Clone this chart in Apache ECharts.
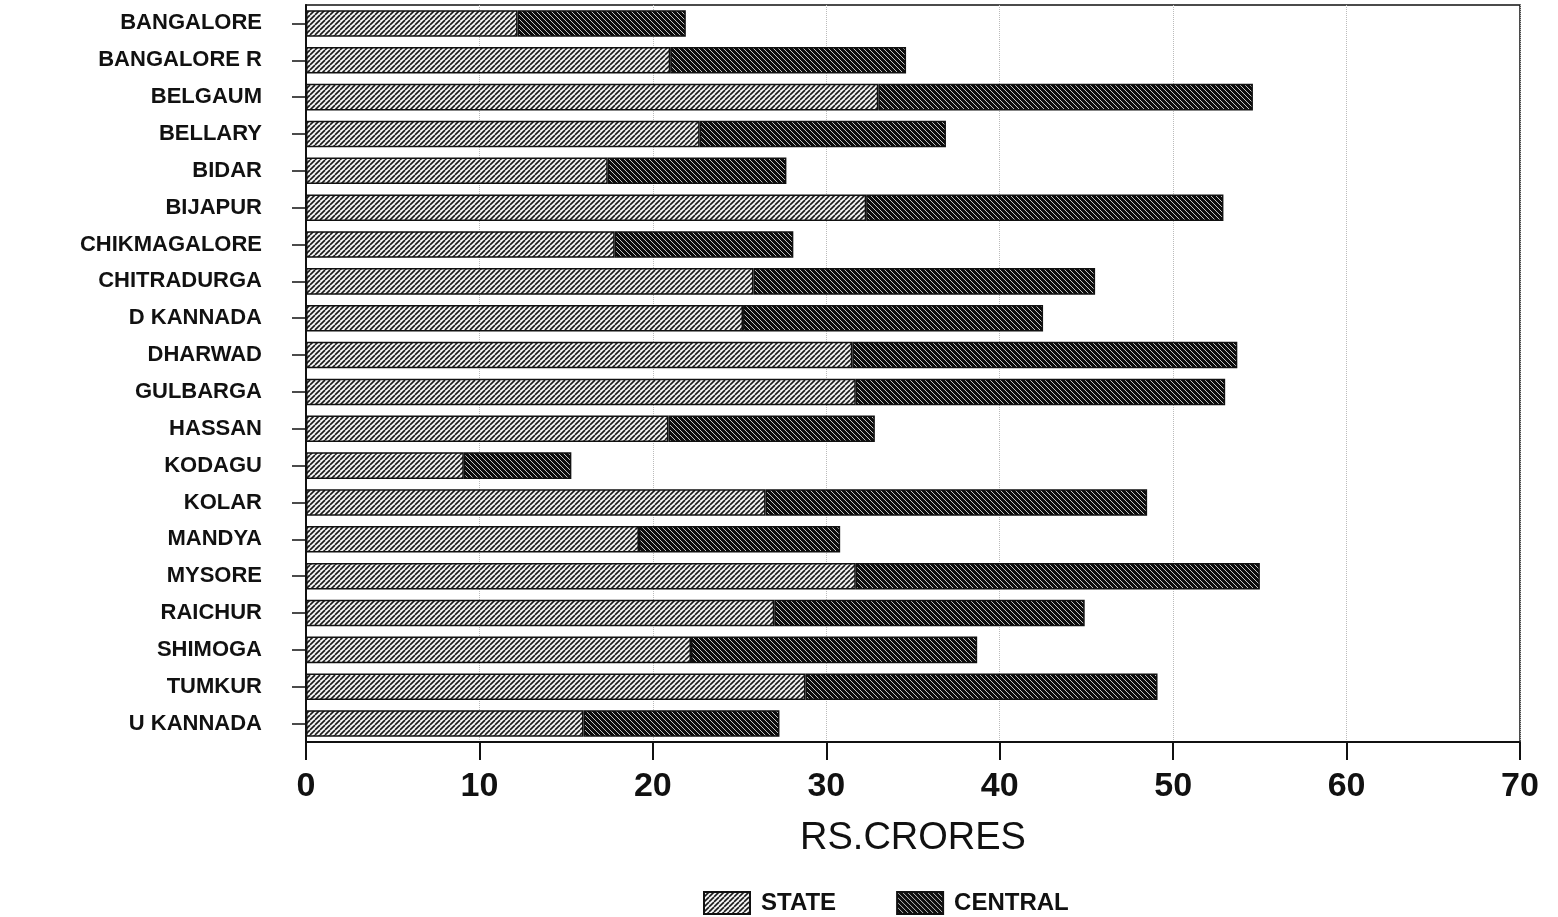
<!DOCTYPE html>
<html>
<head>
<meta charset="utf-8">
<script src="https://cdn.jsdelivr.net/npm/echarts@6/dist/echarts.min.js"></script>
<style>
html,body{margin:0;padding:0;background:#fff;}
#c{width:1558px;height:917px;}
</style>
</head>
<body>
<div id="c"></div>
<script>
const categories = ['BANGALORE','BANGALORE R','BELGAUM','BELLARY','BIDAR','BIJAPUR','CHIKMAGALORE','CHITRADURGA','D KANNADA','DHARWAD','GULBARGA','HASSAN','KODAGU','KOLAR','MANDYA','MYSORE','RAICHUR','SHIMOGA','TUMKUR','U KANNADA'];
const stateValues = [12.2,21.0,33.0,22.7,17.4,32.3,17.8,25.8,25.2,31.5,31.7,20.9,9.1,26.5,19.2,31.7,27.0,22.2,28.8,16.0];
const centralValues = [9.7,13.6,21.6,14.2,10.3,20.6,10.3,19.7,17.3,22.2,21.3,11.9,6.2,22.0,11.6,23.3,17.9,16.5,20.3,11.3];
const xTicks = [0,10,20,30,40,50,60,70];

function makePattern(bg, fg, dir, s, lw) {
  const c = document.createElement('canvas');
  c.width = s; c.height = s;
  const g = c.getContext('2d');
  g.fillStyle = bg; g.fillRect(0,0,s,s);
  g.strokeStyle = fg; g.lineWidth = lw;
  for (let k = -s; k <= s; k += s) {
    g.beginPath();
    if (dir === '/') { g.moveTo(k, s); g.lineTo(k + s, 0); }
    else { g.moveTo(k, 0); g.lineTo(k + s, s); }
    g.stroke();
  }
  return { image: c, repeat: 'repeat' };
}
const statePat = makePattern('#f4f4f4', '#1a1a1a', '/', 5, 1.6);
const centralPat = makePattern('#0d0d0d', '#d8d8d8', '\\', 5, 0.9);

const chart = echarts.init(document.getElementById('c'));
const font = 'Liberation Sans, Arial, sans-serif';
chart.setOption({
  animation: false,
  backgroundColor: '#fff',
  grid: { left: 306, right: 38, top: 5, bottom: 175, show: true, borderColor: '#111', borderWidth: 1.5, backgroundColor: 'transparent' },
  legend: {
    top: 886, left: 698, itemWidth: 46, itemHeight: 22, itemGap: 60, icon: 'rect',
    data: ['STATE','CENTRAL'],
    textStyle: { fontFamily: font, fontSize: 24, fontWeight: 'bold', color: '#111', padding: [0,0,0,6] }
  },
  xAxis: {
    type: 'value', min: 0, max: 70, interval: 10,
    name: 'RS.CRORES', nameLocation: 'middle', nameGap: 78,
    nameTextStyle: { fontFamily: font, fontSize: 38, color: '#111' },
    axisLine: { show: true, lineStyle: { color: '#111', width: 2 } },
    axisTick: { show: true, length: 18, lineStyle: { color: '#111', width: 2 } },
    axisLabel: { fontFamily: font, fontSize: 34, fontWeight: 'bold', color: '#111', margin: 28,
      formatter: v => xTicks.includes(v) ? String(v) : '' },
    splitLine: { show: true, lineStyle: { color: '#bbb', type: 'dotted', width: 1 } }
  },
  yAxis: {
    type: 'category', data: categories, inverse: true,
    axisLine: { show: true, lineStyle: { color: '#111', width: 2 } },
    axisTick: { show: true, length: 14, alignWithLabel: true, lineStyle: { color: '#111', width: 1.5 } },
    axisLabel: { fontFamily: font, fontSize: 22, fontWeight: 'bold', color: '#111', margin: 44 }
  },
  series: [
    { name: 'STATE', type: 'bar', stack: 'total', data: stateValues, barWidth: '72%',
      itemStyle: { color: statePat, borderColor: '#111', borderWidth: 1.5 } },
    { name: 'CENTRAL', type: 'bar', stack: 'total', data: centralValues, barWidth: '72%',
      itemStyle: { color: centralPat, borderColor: '#111', borderWidth: 1.5 } }
  ]
});
</script>
</body>
</html>
